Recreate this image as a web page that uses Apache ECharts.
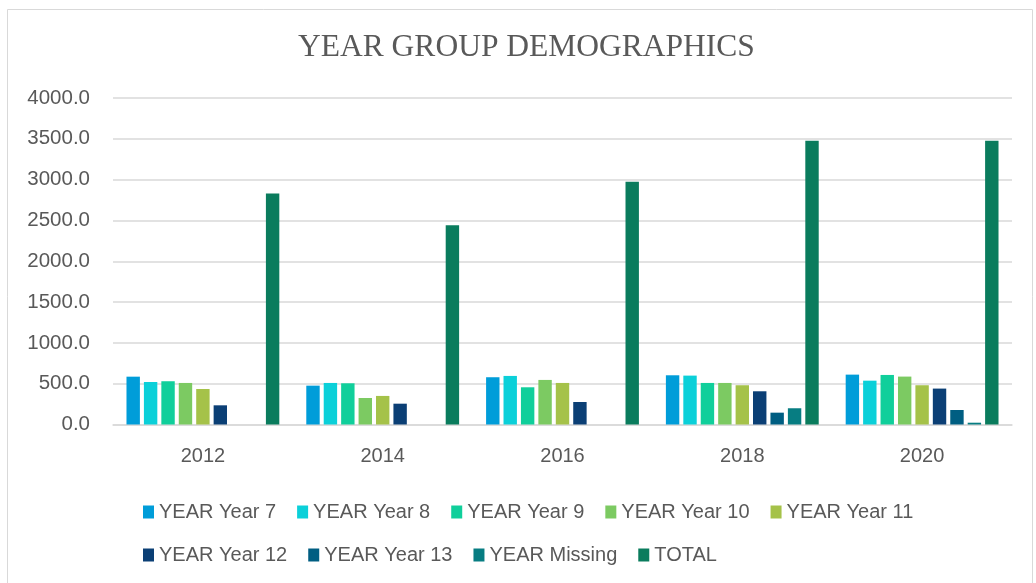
<!DOCTYPE html>
<html>
<head>
<meta charset="utf-8">
<script src="https://cdn.jsdelivr.net/npm/echarts@6/dist/echarts.min.js"></script>
<style>
html,body{margin:0;padding:0;background:#fff;}
#chart{width:1036px;height:583px;}
</style>
</head>
<body>
<div id="chart"></div>
<script>
const categories = ['2012', '2014', '2016', '2018', '2020'];
const seriesNames = ['YEAR Year 7', 'YEAR Year 8', 'YEAR Year 9', 'YEAR Year 10', 'YEAR Year 11', 'YEAR Year 12', 'YEAR Year 13', 'YEAR Missing', 'TOTAL'];
const year7   = [586, 476, 579, 603, 611];
const year8   = [521, 509, 595, 599, 537];
const year9   = [530, 505, 456, 509, 607];
const year10  = [509, 325, 546, 509, 587];
const year11  = [435, 350, 509, 481, 481];
const year12  = [235, 255, 276, 407, 440];
const year13  = [0, 0, 0, 145, 178];
const missing = [0, 0, 0, 199, 22];
const total   = [2830, 2440, 2975, 3475, 3475];
const yTicks = [0, 500, 1000, 1500, 2000, 2500, 3000, 3500, 4000];

const seriesData = [year7, year8, year9, year10, year11, year12, year13, missing, total];
const colors = ['#009DD9', '#0BD0D9', '#10CF9B', '#7CCA62', '#A5C249', '#0B3F75', '#005E82', '#077D82', '#0A7C5D'];

const chart = echarts.init(document.getElementById('chart'), null, {renderer: 'canvas'});
chart.setOption({
  animation: false,
  backgroundColor: '#ffffff',
  color: colors,
  graphic: [{
    type: 'rect', left: 5, top: 7, shape: {width: 1025, height: 600},
    style: {fill: 'none', stroke: '#d9d9d9', lineWidth: 1}, silent: true, z: -1
  }],
  title: {
    text: 'YEAR GROUP DEMOGRAPHICS',
    left: 293, top: 27,
    textStyle: {fontFamily: 'Liberation Serif', fontSize: 31.5, fontWeight: 'normal', color: '#595959'}
  },
  grid: {left: 113, right: 24, top: 98, bottom: 158.5, containLabel: false},
  legend: {
    data: seriesNames,
    left: 138, top: 496, width: 830,
    itemWidth: 11, itemHeight: 13, itemGap: 21,
    icon: 'rect',
    textStyle: {fontFamily: 'Liberation Sans', fontSize: 20, lineHeight: 22, color: '#595959'},
    itemStyle: {borderWidth: 0}
  },
  xAxis: {
    type: 'category', data: categories,
    axisLine: {lineStyle: {color: '#d9d9d9', width: 1.5}},
    axisTick: {show: false},
    axisLabel: {fontFamily: 'Liberation Sans', fontSize: 20, color: '#595959', margin: 22}
  },
  yAxis: {
    type: 'value', min: 0, max: 4000, interval: 500,
    axisLine: {show: false}, axisTick: {show: false},
    splitLine: {lineStyle: {color: '#d9d9d9', width: 1.5}},
    axisLabel: {fontFamily: 'Liberation Sans', fontSize: 20.5, color: '#595959', margin: 23,
      formatter: v => yTicks.includes(v) ? v.toFixed(1) : ''}
  },
  series: seriesData.map((d, i) => ({
    name: seriesNames[i], type: 'bar', data: d,
    barGap: '30%', barCategoryGap: '15%',
    itemStyle: {color: colors[i]}
  }))
});
</script>
</body>
</html>
